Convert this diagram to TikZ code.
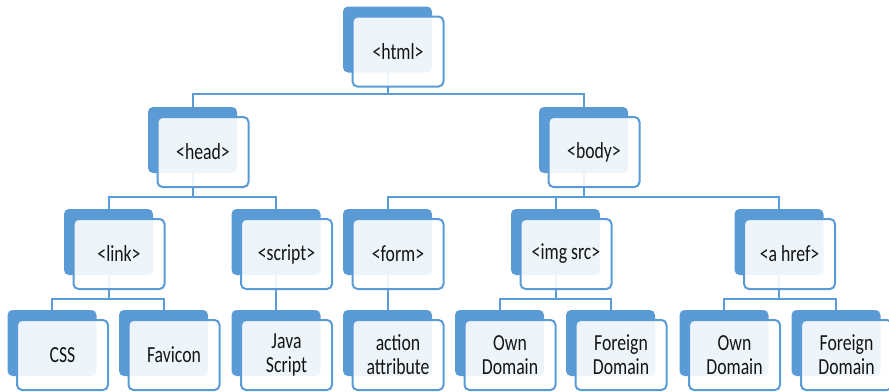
\documentclass[tikz,border=0pt]{standalone}
\usepackage{fontspec}
\setmainfont[FakeStretch=0.77]{Carlito}
\definecolor{bl}{HTML}{5B9BD5}
\definecolor{txt}{HTML}{141414}
\tikzset{
  backbox/.style={fill=bl, rounded corners=5pt, minimum width=89pt, minimum height=66pt, inner sep=0pt},
  frontbox/.style={draw=bl, line width=2pt, fill=white, fill opacity=0.9, text opacity=1, rounded corners=5pt,
    minimum width=91pt, minimum height=70pt, inner sep=0pt, align=center,
    font=\fontsize{23}{24}\selectfont, text=txt},
  conn/.style={draw=bl, line width=2pt}
}
\begin{document}
\begin{tikzpicture}[x=1pt,y=-1pt]
\useasboundingbox (0,0) rectangle (889,391);
% back boxes
\foreach \n/\x/\y in {html/387.5/39.5, head/192.5/140, body/583.5/140,
  link/108.5/242, script/276/242, form/387.5/242, img/555.5/242, ahref/779/242,
  css/52/343, fav/163.5/343, js/276/343, act/387.5/343, own1/499.5/343, for1/610.5/343, own2/724/343, for2/836/343}
  \node[backbox] (\n) at (\x,\y) {};
% connectors
\draw[conn] (html.south) -- (html.south |- 0,94) -| (head.north);
\draw[conn] (html.south |- 0,94) -| (body.north);
\draw[conn] (head.south) -- (head.south |- 0,197) -| (link.north);
\draw[conn] (head.south |- 0,197) -| (script.north);
\draw[conn] (body.south) -- (body.south |- 0,197) -| (form.north);
\draw[conn] (body.south |- 0,197) -| (img.north);
\draw[conn] (body.south |- 0,197) -| (ahref.north);
\draw[conn] (link.south) -- (link.south |- 0,299) -| (css.north);
\draw[conn] (link.south |- 0,299) -| (fav.north);
\draw[conn] (script.south) -- (js.north);
\draw[conn] (form.south) -- (act.north);
\draw[conn] (img.south) -- (img.south |- 0,299) -| (own1.north);
\draw[conn] (img.south |- 0,299) -| (for1.north);
\draw[conn] (ahref.south) -- (ahref.south |- 0,299) -| (own2.north);
\draw[conn] (ahref.south |- 0,299) -| (for2.north);
% front boxes
\foreach \n/\t in {html/{<html>}, head/{<head>}, body/{<body>},
  link/{<link>}, script/{<script>}, form/{<form>}, img/{<img src>}, ahref/{<a href>},
  css/{CSS}, fav/{Favicon}, js/{Java\\Script}, act/{action\\attribute},
  own1/{Own\\Domain}, for1/{Foreign\\Domain}, own2/{Own\\Domain}, for2/{Foreign\\Domain}}
  \node[frontbox] (\n-f) at ([xshift=10.5pt,yshift=-12pt]\n.center) {\t};
\end{tikzpicture}
\end{document}
